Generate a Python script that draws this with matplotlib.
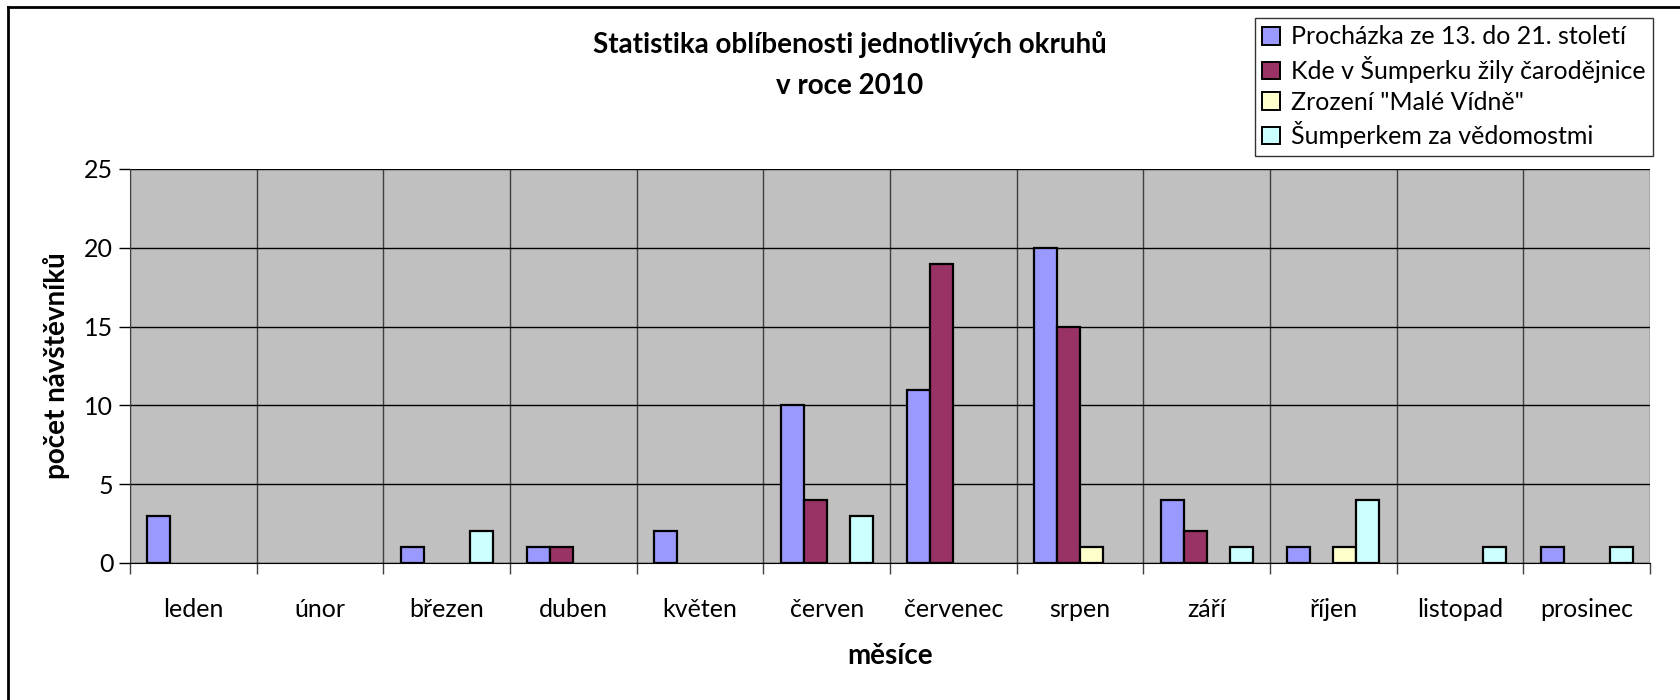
import numpy as np
import matplotlib.pyplot as plt
from matplotlib.lines import Line2D
from matplotlib.patches import Patch

plt.rcParams["font.family"] = ["Lato", "DejaVu Sans"]

months = ["leden", "únor", "březen", "duben", "květen", "červen",
          "červenec", "srpen", "září", "říjen", "listopad", "prosinec"]
series_names = ["Procházka ze 13. do 21. století",
                "Kde v Šumperku žily čarodějnice",
                "Zrození \"Malé Vídně\"",
                "Šumperkem za vědomostmi"]
prochazka = [3, 0, 1, 1, 2, 10, 11, 20, 4, 1, 0, 1]
carodejnice = [0, 0, 0, 1, 0, 4, 19, 15, 2, 0, 0, 0]
mala_viden = [0, 0, 0, 0, 0, 0, 0, 1, 0, 1, 0, 0]
vedomosti = [0, 0, 2, 0, 0, 3, 0, 0, 1, 4, 1, 1]
colors = ["#9999FF", "#993366", "#FFFFCC", "#CCFFFF"]

FS = 18
FSB = 20
W, H = 1681, 700
fig = plt.figure(figsize=(W / 100, H / 100), dpi=100)
ax = fig.add_axes([130 / W, 1 - 563 / H, 1520 / W, 394 / H])
ax.set_facecolor("#C0C0C0")

x = np.arange(len(months))
bw = 1 / 5.5
for i, (vals, c) in enumerate(zip([prochazka, carodejnice, mala_viden, vedomosti], colors)):
    v = np.array(vals, dtype=float)
    m = v > 0
    ax.bar(x[m] + (i - 1.5) * bw, v[m], width=bw, color=c,
           edgecolor="black", linewidth=1.6, zorder=3)

ax.set_xlim(-0.5, 11.5)
ax.set_ylim(0, 25)
ax.set_yticks(range(0, 26, 5))
ax.tick_params(axis="y", labelsize=FS, direction="out", length=8, width=1, pad=4)
ax.set_xticks(x)
ax.set_xticklabels(months)
ax.tick_params(axis="x", labelsize=FS, length=0, pad=25)
ax.set_xticks(np.arange(-0.5, 12, 1), minor=True)
ax.tick_params(axis="x", which="minor", direction="out", length=8, width=1, color="#404040")
ax.grid(axis="y", color="black", linewidth=1, zorder=1)
ax.grid(axis="x", which="minor", color="#404040", linewidth=1, zorder=1)
ax.set_axisbelow(True)
for s in ["top", "right"]:
    ax.spines[s].set_visible(False)
ax.spines["left"].set_color("#404040")
ax.spines["bottom"].set_color("black")

ax.set_ylabel("počet návštěvníků", fontsize=FSB, fontweight="bold", labelpad=10)
ax.set_xlabel("měsíce", fontsize=FSB, fontweight="bold", labelpad=16)

fig.text(850 / W, 1 - 45 / H, "Statistika oblíbenosti jednotlivých okruhů",
         ha="center", va="center", fontsize=FSB, fontweight="bold")
fig.text(850 / W, 1 - 86 / H, "v roce 2010",
         ha="center", va="center", fontsize=FSB, fontweight="bold")

handles = [Patch(facecolor=c, edgecolor="black", linewidth=1.4) for c in colors]
leg = fig.legend(handles, series_names, loc="upper left",
                 bbox_to_anchor=(1255 / W, 1 - 18 / H), fontsize=FS,
                 frameon=True, fancybox=False, borderpad=0.3,
                 handlelength=0.7, handleheight=0.7, handletextpad=0.45,
                 labelspacing=0.3, borderaxespad=0)
leg.get_frame().set_edgecolor("black")
leg.get_frame().set_linewidth(1)

# outer chart frame (only left and top visible)
fig.add_artist(Line2D([8 / W, 8 / W], [0, 1 - 7 / H], color="black", linewidth=2))
fig.add_artist(Line2D([8 / W, 1], [1 - 7 / H, 1 - 7 / H], color="black", linewidth=2))

fig.savefig("out.png", dpi=100)
